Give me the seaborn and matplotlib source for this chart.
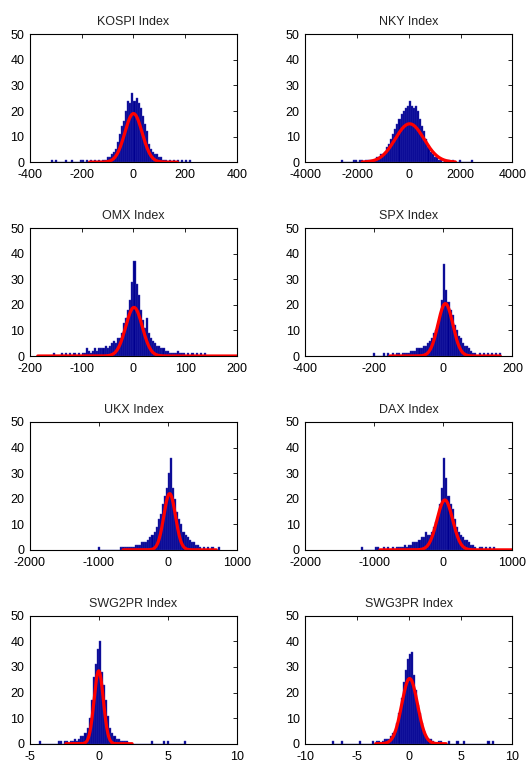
import numpy as np
import pandas as pd
import matplotlib
matplotlib.use("Agg")
import matplotlib.pyplot as plt
import seaborn as sns

# ---------------- data ----------------
titles = ["KOSPI Index", "NKY Index", "OMX Index", "SPX Index",
          "UKX Index", "DAX Index", "SWG2PR Index", "SWG3PR Index"]

xlims = [(-400, 400), (-4000, 4000), (-200, 200), (-400, 200),
         (-2000, 1000), (-2000, 1000), (-5, 10), (-10, 10)]
xticks = [[-400, -200, 0, 200, 400], [-4000, -2000, 0, 2000, 4000],
          [-200, -100, 0, 100, 200], [-400, -200, 0, 200],
          [-2000, -1000, 0, 1000], [-2000, -1000, 0, 1000],
          [-5, 0, 5, 10], [-10, -5, 0, 5, 10]]

# bin width and first edge of the central block of counts
bin_width = [8, 80, 4, 6, 30, 30, 0.15, 0.2]
center_start = [-120, -1280, -100, -120, -600, -600, -2.1, -2.6]

kospi_counts = [1, 1, 2, 2, 3, 4, 5, 8, 11, 14, 16, 20, 24, 23, 27, 24,
                25, 23, 21, 18, 15, 12, 7, 5, 4, 3, 3, 2, 2, 1, 1]
nky_counts = [2, 2, 3, 3, 4, 6, 7, 9, 11, 13, 15, 17, 19, 20, 21, 22,
              24, 22, 21, 22, 20, 17, 14, 12, 9, 6, 4, 3, 2, 2, 1, 1]
omx_counts = [1, 1, 3, 2, 1, 2, 3, 2, 3, 3, 3, 4, 3, 4, 5, 6, 5, 7, 7, 9,
              13, 15, 18, 22, 29, 37, 28, 24, 18, 14, 11, 15, 9, 7, 6, 5,
              4, 4, 3, 3, 2, 2, 1, 1, 1, 1, 2, 1, 1, 1]
spx_counts = [1, 1, 1, 1, 2, 2, 2, 3, 3, 3, 4, 4, 5, 6, 7, 9, 10, 12, 15,
              22, 36, 26, 21, 18, 16, 12, 10, 8, 7, 5, 4, 4, 3, 2, 1, 1]
ukx_counts = [1, 1, 1, 1, 2, 2, 2, 3, 3, 3, 4, 5, 6, 7, 9, 12, 14, 18, 21,
              24, 30, 36, 24, 20, 15, 12, 10, 7, 6, 5, 4, 3, 3, 2, 2, 1]
dax_counts = [1, 2, 1, 2, 2, 3, 3, 3, 4, 5, 5, 7, 6, 6, 7, 9, 11, 13, 18,
              24, 36, 28, 21, 18, 16, 12, 9, 7, 6, 5, 4, 4, 3, 2, 2, 1]
swg2_counts = [1, 1, 2, 1, 2, 3, 3, 4, 6, 10, 17, 26, 31, 37, 40, 28, 23,
               17, 11, 6, 4, 3, 2, 2, 1, 1, 1, 1]
swg3_counts = [1, 2, 2, 2, 3, 4, 5, 8, 12, 18, 24, 29, 33, 35, 36, 27, 21,
               15, 12, 8, 5, 3, 2, 2, 1]
center_counts = [kospi_counts, nky_counts, omx_counts, spx_counts,
                 ukx_counts, dax_counts, swg2_counts, swg3_counts]

# isolated single-count bins in the tails (lower bin edges)
kospi_tails = [-320, -304, -264, -240, -208, -200, -184, -168, -152, -136,
               136, 152, 168, 184, 200, 216]
nky_tails = [-2640, -2160, -2080, -1920, -1840, -1680, -1600, -1520, -1440,
             -1360, 1360, 1440, 1520, 1680, 1920, 2400]
omx_tails = [-156, -140, -132, -124, -116, -108, 104, 112, 120, 128, 136]
spx_tails = [-204, -174, -162, -150, -138, -132, 102, 114, 126, 138, 150, 162]
ukx_tails = [-1020, -690, -660, -630, 510, 570, 630, 720]
dax_tails = [-1200, -990, -960, -870, -810, -750, -690, -660, -630,
             510, 540, 600, 660, 720]
swg2_tails = [-4.35, -3.0, -2.85, -2.55, -2.4, 3.75, 4.65, 4.95, 6.15]
swg3_tails = [-7.4, -6.6, -4.8, -3.6, -3.2, -3.0, 2.8, 3.0, 3.8, 4.6, 5.2,
              7.6, 8.0]
tail_bins = [kospi_tails, nky_tails, omx_tails, spx_tails,
             ukx_tails, dax_tails, swg2_tails, swg3_tails]

# fitted normal curve: peak height, mean, sigma, drawn range
fit_peak = [19, 15, 19, 20.5, 22, 19.5, 28.5, 25.5]
fit_mu = [0, 30, 1, 6, 24, 22, -0.02, 0.08]
fit_sigma = [33.5, 555, 16, 21.5, 84, 113, 0.335, 0.76]
fit_range = [(-170, 170), (-1800, 1800), (-185, 200), (-155, 165),
             (-650, 700), (-920, 1000), (-2.4, 2.4), (-3.2, 3.6)]

yticks = [0, 10, 20, 30, 40, 50]

# ---------------- style ----------------
sns.set_style("white")
plt.rcParams["font.family"] = ["Liberation Sans", "DejaVu Sans"]
plt.rcParams["axes.linewidth"] = 0.8
plt.rcParams["axes.unicode_minus"] = False

fig = plt.figure(figsize=(5.26, 7.62), dpi=100)
axes = fig.subplots(4, 2)
fig.subplots_adjust(left=0.057, right=0.974, top=0.955, bottom=0.024,
                    wspace=0.33, hspace=0.516)

bar_color = "#000090"
edge_color = "#3c3cb4"

for i, ax in enumerate(axes.flat):
    bw = bin_width[i]
    counts = center_counts[i]
    lowers = [center_start[i] + k * bw for k in range(len(counts))]
    lowers = lowers + list(tail_bins[i])
    weights = [float(v) for v in counts] + [1.0] * len(tail_bins[i])
    df = pd.DataFrame({"x": np.array(lowers, dtype=float) + bw / 2.0,
                       "w": weights})
    lo = min(lowers)
    hi = max(lowers) + bw
    nb = int(round((hi - lo) / bw))
    edges = [float(lo + bw * k) for k in range(nb + 1)]
    sns.histplot(data=df, x="x", weights="w", bins=edges, ax=ax,
                 color=bar_color, alpha=1.0, edgecolor=edge_color,
                 linewidth=0.3, legend=False)

    xs = np.linspace(fit_range[i][0], fit_range[i][1], 400)
    ys = fit_peak[i] * np.exp(-0.5 * ((xs - fit_mu[i]) / fit_sigma[i]) ** 2)
    ax.plot(xs, ys, color="#ff0000", linewidth=2.3, solid_capstyle="round")

    ax.set_xlim(*xlims[i])
    ax.set_ylim(0, 50)
    ax.set_xticks(xticks[i])
    ax.set_yticks(yticks)
    ax.set_xlabel("")
    ax.set_ylabel("")
    ax.set_title(titles[i], fontsize=9, pad=6.5, color="#222222")
    ax.tick_params(direction="in", length=3, width=0.6, top=True,
                   right=True, labelsize=9, colors="black")
    ax.tick_params(axis="x", pad=5.2)
    ax.tick_params(axis="y", pad=4)
    for s in ax.spines.values():
        s.set_visible(True)
        s.set_color("black")
        s.set_linewidth(0.8)

fig.savefig("out.png", dpi=100, facecolor="white")
